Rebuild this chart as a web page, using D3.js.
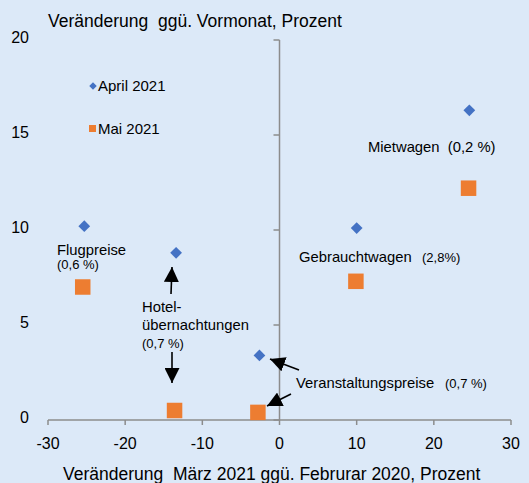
<!DOCTYPE html>
<html>
<head>
<meta charset="utf-8">
<script src="https://cdn.jsdelivr.net/npm/d3@7"></script>
<style>
  body { margin: 0; background: #dce9f8; }
  svg { display: block; font-family: "Liberation Sans", Arial, sans-serif; }
</style>
</head>
<body>
<svg id="chart" width="529" height="483"></svg>
<script>
// data
let categories = ["Mietwagen", "Flugpreise", "Hotel", "Gebrauchtwagen", "Veranstaltung"]
let aprilX = [24.6, -25.3, -13.4, 10.0, -2.6]
let aprilY = [16.3, 10.2, 8.8, 10.1, 3.4]
let maiX = [24.5, -25.5, -13.6, 9.9, -2.8]
let maiY = [12.2, 7.0, 0.5, 7.3, 0.4]
let xTicks = [-30, -20, -10, 0, 10, 20, 30]
let yTicks = [0, 5, 10, 15, 20]

let svg = d3.select('#chart')

svg.append('rect')
    .attr('width', 529).attr('height', 483)
    .attr('fill', '#dce9f8')

let x = d3.scaleLinear().domain([-30, 30]).range([48, 511])
let y = d3.scaleLinear().domain([0, 20]).range([420, 40])

/* axes */
let axisG = svg.append('g')

// x axis line along y=0
axisG.append('line')
    .attr('x1', x(-30)).attr('x2', x(30))
    .attr('y1', y(0)).attr('y2', y(0))
    .attr('stroke', '#8c8c8c').attr('stroke-width', 1.5)

axisG.selectAll('.xtick')
    .data(xTicks)
    .join('line')
    .attr('x1', d => x(d)).attr('x2', d => x(d))
    .attr('y1', y(0)).attr('y2', y(0) + 5)
    .attr('stroke', '#8c8c8c').attr('stroke-width', 1.5)

axisG.selectAll('.xlab')
    .data(xTicks)
    .join('text')
    .attr('x', d => x(d))
    .attr('y', 449)
    .attr('text-anchor', 'middle')
    .attr('font-size', 16)
    .attr('fill', '#000')
    .text(d => d)

// y axis at x=0
axisG.append('line')
    .attr('x1', x(0)).attr('x2', x(0))
    .attr('y1', y(20)).attr('y2', y(0))
    .attr('stroke', '#8c8c8c').attr('stroke-width', 1.5)

axisG.selectAll('.ytick')
    .data(yTicks)
    .join('line')
    .attr('x1', x(0) - 6).attr('x2', x(0))
    .attr('y1', d => y(d)).attr('y2', d => y(d))
    .attr('stroke', '#8c8c8c').attr('stroke-width', 1.5)

axisG.selectAll('.ylab')
    .data(yTicks)
    .join('text')
    .attr('x', 29)
    .attr('y', d => y(d) + 3)
    .attr('text-anchor', 'end')
    .attr('font-size', 16)
    .attr('fill', '#000')
    .text(d => d)

// titles
svg.append('text')
    .attr('x', 48).attr('y', 26.5)
    .attr('font-size', 17.5)
    .attr('xml:space', 'preserve')
    .text('Veränderung  ggü. Vormonat, Prozent')

svg.append('text')
    .attr('x', 63).attr('y', 480)
    .attr('font-size', 17.5)
    .attr('xml:space', 'preserve')
    .text('Veränderung  März 2021 ggü. Februrar 2020, Prozent')

/* points */
let diamond = d3.symbol().type(d3.symbolDiamond2)

svg.append('g').selectAll('rect')
    .data(categories.map((c, i) => ({c, x: maiX[i], y: maiY[i]})))
    .join('rect')
    .attr('x', d => x(d.x) - 7.75)
    .attr('y', d => y(d.y) - 7.75)
    .attr('width', 15.5).attr('height', 15.5)
    .attr('fill', '#ed7d31')

svg.append('g').selectAll('path')
    .data(categories.map((c, i) => ({c, x: aprilX[i], y: aprilY[i]})))
    .join('path')
    .attr('d', diamond.size(88))
    .attr('transform', d => `translate(${x(d.x)},${y(d.y)})`)
    .attr('fill', '#4472c4')

/* legend */
svg.append('path')
    .attr('d', diamond.size(36))
    .attr('transform', 'translate(93,86)')
    .attr('fill', '#4472c4')
svg.append('text').attr('x', 98).attr('y', 91).attr('font-size', 15).text('April 2021')

svg.append('rect')
    .attr('x', 89).attr('y', 125).attr('width', 7).attr('height', 7)
    .attr('fill', '#ed7d31')
svg.append('text').attr('x', 98).attr('y', 134).attr('font-size', 15).text('Mai 2021')

/* annotations */
let ann = svg.append('g').attr('fill', '#000')

function label(xp, yp, txt, size) {
    ann.append('text').attr('x', xp).attr('y', yp)
        .attr('font-size', size || 14.8)
        .attr('xml:space', 'preserve')
        .text(txt)
}
label(368, 152, 'Mietwagen  (0,2 %)')
label(57, 255, 'Flugpreise')
label(57, 269, '(0,6 %)', 13)
label(299, 262, 'Gebrauchtwagen')
label(422, 262, '(2,8%)', 13)
label(142, 312, 'Hotel-')
label(142, 330, 'übernachtungen')
label(142, 348, '(0,7 %)', 13)
label(296, 388, 'Veranstaltungspreise')
label(445, 388, '(0,7 %)', 13)

// arrows
svg.append('defs').append('marker')
    .attr('id', 'head')
    .attr('viewBox', '0 0 10 10')
    .attr('refX', 10).attr('refY', 5)
    .attr('markerWidth', 15).attr('markerHeight', 15)
    .attr('markerUnits', 'userSpaceOnUse')
    .attr('orient', 'auto')
    .append('path').attr('d', 'M0,0 L10,5 L0,10 z').attr('fill', '#000')

let arrows = [
    [171, 294, 172, 267],
    [172, 352, 172, 383],
    [299, 370, 270, 359],
    [291, 394, 267, 406]
]
svg.append('g').selectAll('line')
    .data(arrows)
    .join('line')
    .attr('x1', d => d[0]).attr('y1', d => d[1])
    .attr('x2', d => d[2]).attr('y2', d => d[3])
    .attr('stroke', '#000').attr('stroke-width', 1.6)
    .attr('marker-end', 'url(#head)')
</script>
</body>
</html>
